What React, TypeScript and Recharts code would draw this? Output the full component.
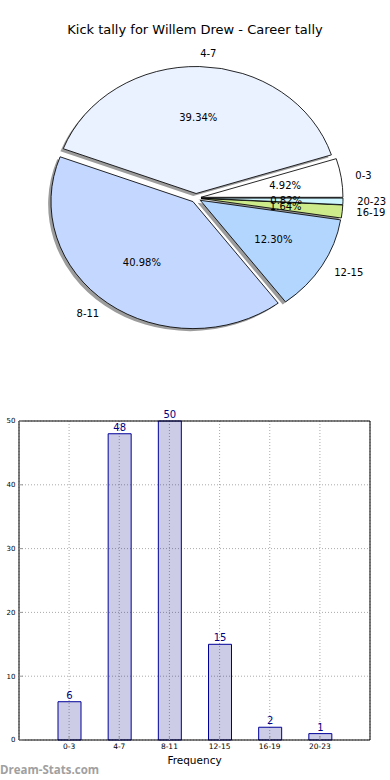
import { PieChart, Pie, Cell, BarChart, Bar, XAxis, YAxis, CartesianGrid, LabelList } from "recharts";

const ranges = ["0-3", "4-7", "8-11", "12-15", "16-19", "20-23"];
const counts = [6, 48, 50, 15, 2, 1];
const sliceColors = ["#ffffff", "#eaf1ff", "#c4d8ff", "#b3d6ff", "#cdeb8b", "#ccf5ff"];
const yTicks = [0, 10, 20, 30, 40, 50];

const FONT = '"DejaVu Sans", sans-serif';

// the pie axes are not square in the original, so the pie is stretched sideways
const K = 1.118;
const PIE_W = 349;
const PIE_H = 400;
const PIE_CX = 175.3;
const PIE_CY = 198;
const PIE_R = 127;
const EXPLODE = 4.5;
const SHADOW = 0.02 * PIE_R;

const data = ranges.map((range, i) => ({ range, count: counts[i] }));
const total = counts.reduce((a, b) => a + b, 0);
const midAngles = counts.map(
  (c, i) => (360 * (counts.slice(0, i).reduce((a, b) => a + b, 0) + c / 2)) / total
);
const offsets = midAngles.map((m) => {
  const a = (m * Math.PI) / 180;
  return { dx: EXPLODE * Math.cos(a), dy: -EXPLODE * Math.sin(a) };
});

function sliceLabel(i: number) {
  return (p: any) => {
    if (p.index !== i) return null;
    const a = (p.midAngle * Math.PI) / 180;
    const cos = Math.cos(a);
    const sin = Math.sin(a);
    const lx = p.cx + PIE_R * 1.1 * cos;
    const ly = p.cy - PIE_R * 1.1 * sin;
    const px = p.cx + PIE_R * 0.6 * cos;
    const py = p.cy - PIE_R * 0.6 * sin;
    const pct = ((counts[i] / total) * 100).toFixed(2) + "%";
    return (
      <g>
        <g transform={`translate(${lx},${ly}) scale(${1 / K},1)`}>
          <text
            x={0}
            y={0}
            textAnchor={cos >= 0 ? "start" : "end"}
            dominantBaseline="central"
            fontSize={10}
            fontFamily={FONT}
            fill="#000"
          >
            {ranges[i]}
          </text>
        </g>
        <g transform={`translate(${px},${py}) scale(${1 / K},1)`}>
          <text
            x={0}
            y={0}
            textAnchor="middle"
            dominantBaseline="central"
            fontSize={10}
            fontFamily={FONT}
            fill="#000"
          >
            {pct}
          </text>
        </g>
      </g>
    );
  };
}

function KickPie() {
  return (
    <PieChart width={PIE_W} height={PIE_H} margin={{ top: 0, right: 0, bottom: 0, left: 0 }}>
      {/* shadows */}
      {data.map((_, i) => (
        <Pie
          key={"s" + i}
          data={data}
          dataKey="count"
          cx={PIE_CX + offsets[i].dx - SHADOW}
          cy={PIE_CY + offsets[i].dy + SHADOW}
          outerRadius={PIE_R}
          startAngle={0}
          endAngle={360}
          labelLine={false}
          isAnimationActive={false}
        >
          {data.map((d, j) => (
            <Cell key={d.range} fill={j === i ? "#9c9c9c" : "none"} stroke="none" />
          ))}
        </Pie>
      ))}
      {/* wedges */}
      {data.map((_, i) => (
        <Pie
          key={"w" + i}
          data={data}
          dataKey="count"
          cx={PIE_CX + offsets[i].dx}
          cy={PIE_CY + offsets[i].dy}
          outerRadius={PIE_R}
          startAngle={0}
          endAngle={360}
          labelLine={false}
          isAnimationActive={false}
        >
          {data.map((d, j) => (
            <Cell
              key={d.range}
              fill={j === i ? sliceColors[i] : "none"}
              stroke={j === i ? "#000" : "none"}
              strokeWidth={0.8}
            />
          ))}
        </Pie>
      ))}
      {/* texts on top */}
      {data.map((_, i) => (
        <Pie
          key={"t" + i}
          data={data}
          dataKey="count"
          cx={PIE_CX + offsets[i].dx}
          cy={PIE_CY + offsets[i].dy}
          outerRadius={PIE_R}
          startAngle={0}
          endAngle={360}
          label={sliceLabel(i)}
          labelLine={false}
          isAnimationActive={false}
        >
          {data.map((d) => (
            <Cell key={d.range} fill="none" stroke="none" />
          ))}
        </Pie>
      ))}
    </PieChart>
  );
}

function KickBars() {
  return (
    <BarChart width={390} height={380} data={data} margin={{ top: 20, right: 19, bottom: 0, left: 0 }}>
      <CartesianGrid stroke="#aaaaaa" strokeDasharray="1 2" />
      <XAxis
        dataKey="range"
        height={40}
        padding={{ left: 25, right: 25 }}
        interval={0}
        tickSize={-4}
        tickMargin={8}
        axisLine={{ stroke: "#000" }}
        tickLine={{ stroke: "#999" }}
        tick={{ fontSize: 7.5, fill: "#000", fontFamily: FONT }}
      />
      <XAxis
        xAxisId="top"
        orientation="top"
        dataKey="range"
        height={1}
        padding={{ left: 25, right: 25 }}
        interval={0}
        tickSize={-4}
        tick={false}
        axisLine={{ stroke: "#000" }}
        tickLine={{ stroke: "#999" }}
      />
      <YAxis
        domain={[0, 50]}
        ticks={yTicks}
        width={19}
        tickSize={-4}
        tickMargin={7.5}
        axisLine={{ stroke: "#000" }}
        tickLine={{ stroke: "#999" }}
        tick={{ fontSize: 7, fill: "#000", fontFamily: FONT }}
      />
      <YAxis
        yAxisId="right"
        orientation="right"
        domain={[0, 50]}
        ticks={yTicks}
        width={1}
        tickSize={-4}
        tick={false}
        allowDataOverflow
        axisLine={{ stroke: "#000" }}
        tickLine={{ stroke: "#999" }}
      />
      <Bar
        dataKey="count"
        barSize={23}
        fill="#000080"
        fillOpacity={0.2}
        stroke="#000099"
        strokeWidth={1}
        isAnimationActive={false}
      >
        <LabelList
          dataKey="count"
          position="top"
          offset={3}
          fill="#000080"
          stroke="none"
          fontSize={10}
          fontFamily={FONT}
        />
      </Bar>
    </BarChart>
  );
}

export default function App() {
  return (
    <div
      style={{
        position: "absolute",
        left: 0,
        top: 0,
        width: 390,
        height: 780,
        background: "#fff",
        overflow: "hidden",
        fontFamily: FONT,
      }}
    >
      <div
        style={{
          position: "absolute",
          left: 0,
          top: 22,
          width: 390,
          textAlign: "center",
          fontSize: 13,
          lineHeight: "16px",
          color: "#000",
        }}
      >
        Kick tally for Willem Drew - Career tally
      </div>
      <div
        style={{
          position: "absolute",
          left: 0,
          top: 0,
          width: PIE_W,
          height: PIE_H,
          transform: `scaleX(${K})`,
          transformOrigin: "0 0",
        }}
      >
        <KickPie />
      </div>
      <div style={{ position: "absolute", left: 0, top: 400 }}>
        <KickBars />
      </div>
      <div
        style={{
          position: "absolute",
          left: 19,
          width: 351,
          top: 753,
          textAlign: "center",
          fontSize: 10.5,
          lineHeight: "14px",
          color: "#000",
        }}
      >
        Frequency
      </div>
      <div
        style={{
          position: "absolute",
          left: 0,
          top: 762,
          fontFamily: '"Open Sans", sans-serif',
          fontWeight: 700,
          fontSize: 11.5,
          lineHeight: "16px",
          color: "#a0a0a0",
        }}
      >
        Dream-Stats.com
      </div>
    </div>
  );
}
